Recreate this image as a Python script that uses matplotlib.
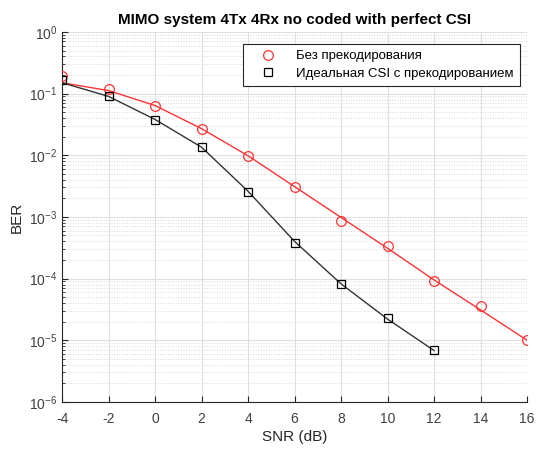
import matplotlib
matplotlib.use("Agg")
import matplotlib.pyplot as plt
from matplotlib.ticker import LogLocator, NullFormatter, NullLocator

plt.rcParams['font.family'] = ['Liberation Sans', 'DejaVu Sans']

snr_red = [-4, -2, 0, 2, 4, 6, 8, 10, 12, 14, 16]
ber_red_markers = [0.19, 0.12, 0.062, 0.027, 0.0098, 0.0031, 0.00085, 0.00034, 9.2e-5, 3.6e-5, 1.02e-5]
ber_red_line = [0.15, 0.112, 0.064, 0.027, 0.0098, 0.0031, 0.00098, 0.00031, 9.5e-5, 3.1e-5, 1.0e-5]

snr_blk = [-4, -2, 0, 2, 4, 6, 8, 10, 12]
ber_blk_markers = [0.165, 0.093, 0.037, 0.0135, 0.0025, 0.00038, 8.3e-5, 2.25e-5, 7.0e-6]
ber_blk_line = [0.15, 0.09, 0.038, 0.0135, 0.0026, 0.0004, 8.2e-5, 2.2e-5, 6.8e-6]

labels = ['Без прекодирования', 'Идеальная CSI с прекодированием']
xticks = [-4, -2, 0, 2, 4, 6, 8, 10, 12, 14, 16]

fig = plt.figure(figsize=(5.4, 4.5), dpi=100)
ax = fig.add_axes([0.115, 0.107, 0.861, 0.822])

ax.semilogy(snr_red, ber_red_line, '-', color='#ff3333', lw=1.0, zorder=3)
ax.semilogy(snr_blk, ber_blk_line, '-', color='#333333', lw=1.0, zorder=3)
ax.semilogy(snr_red, ber_red_markers, 'o', mfc='none', mec='#ff3333', ms=7, mew=0.9, zorder=4, label=labels[0])
ax.semilogy(snr_blk, ber_blk_markers, 's', mfc='none', mec='black', ms=6, mew=0.9, zorder=4, label=labels[1])

ax.set_xlim(-4, 16)
ax.set_ylim(1e-6, 1)
ax.set_xticks(xticks)
ax.set_xticklabels([str(v) for v in xticks])
ax.xaxis.set_minor_locator(NullLocator())
ax.yaxis.set_major_locator(LogLocator(base=10, numticks=10))
ax.yaxis.set_minor_locator(LogLocator(base=10, subs=range(2, 10), numticks=20))
ax.yaxis.set_minor_formatter(NullFormatter())
ax.xaxis.offsetText.set_visible(False)
ax.yaxis.offsetText.set_visible(False)

ax.grid(True, which='major', color='#e0e0e0', lw=0.8, ls='-')
ax.grid(True, which='minor', axis='y', color='#d8d8d8', lw=0.7, ls=':')
ax.set_axisbelow(True)

for s in ['top', 'right']:
    ax.spines[s].set_visible(False)
for s in ['left', 'bottom']:
    ax.spines[s].set_color('#262626')
    ax.spines[s].set_linewidth(0.8)
ax.tick_params(which='both', direction='in', colors='#262626', labelsize=10, labelcolor='#404040')
ax.tick_params(which='major', length=4)
ax.tick_params(which='minor', length=2)
ax.tick_params(axis='x', pad=7)

ax.set_title('MIMO system 4Tx 4Rx no coded with perfect CSI', fontsize=11, fontweight='bold', pad=6)
ax.set_xlabel('SNR (dB)', fontsize=11, color='#262626', labelpad=3)
ax.set_ylabel('BER', fontsize=11, color='#262626')

leg = ax.legend(loc='upper right', bbox_to_anchor=(0.998, 0.985), fontsize=9.5, fancybox=False,
                edgecolor='#262626', framealpha=1, handlelength=3.0, handletextpad=0.6,
                borderpad=0.45, labelspacing=0.4)
leg.get_frame().set_linewidth(0.8)

fig.savefig('out.png', dpi=100)
